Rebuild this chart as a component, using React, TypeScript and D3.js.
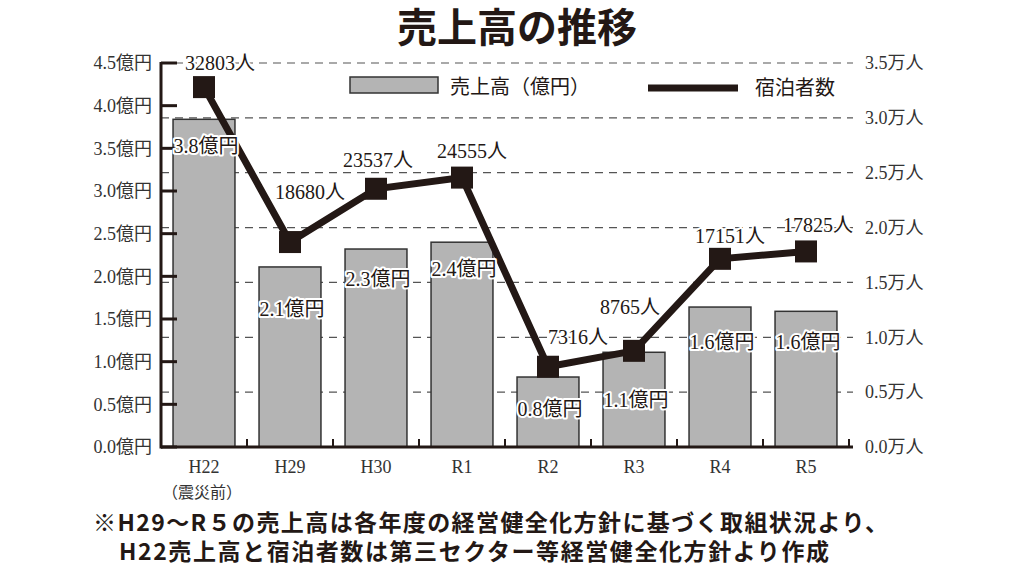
import React from "react";
import * as d3 from "d3";

// data
const years = ["H22", "H29", "H30", "R1", "R2", "R3", "R4", "R5"];
const yearNotes = ["（震災前）", "", "", "", "", "", "", ""];
const sales = [3.84, 2.11, 2.32, 2.4, 0.82, 1.11, 1.64, 1.59]; // 億円
const guests = [32803, 18680, 23537, 24555, 7316, 8765, 17151, 17825]; // 人
const salesTicks = [0, 0.5, 1, 1.5, 2, 2.5, 3, 3.5, 4, 4.5];
const guestTicks = [0, 5000, 10000, 15000, 20000, 25000, 30000, 35000];

// label nudges (px) so the labels sit where the original puts them
const salesLabelDy = [34, 49, 37, 34, 39, 55, 42, 38];
const guestLabelDx = [16, 20, 2, 10, 30, -4, 10, 12];
const guestLabelDy = [-17, -43, -22, -20, -23, -37, -16, -19];

const W = 1024;
const H = 576;
const left = 161;
const right = 849;
const top = 63;
const bottom = 447;
const ink = "#231815";
const serif = "'Liberation Serif', 'DejaVu Serif', 'Noto Sans CJK JP', serif";
const sans = "'Noto Sans CJK JP', sans-serif";

const App = () => {
  const x = d3
    .scaleBand<string>()
    .domain(years)
    .range([left, right])
    .paddingInner(0.28)
    .paddingOuter(0.14);
  const yL = d3.scaleLinear().domain([0, 4.5]).range([bottom, top]);
  const yR = d3.scaleLinear().domain([0, 35000]).range([bottom, top]);
  const cx = (d: string) => (x(d) ?? 0) + x.bandwidth() / 2;

  const line = d3
    .line<number>()
    .x((d, i) => cx(years[i]))
    .y(d => yR(d));

  const halo = {
    stroke: "#fff",
    strokeWidth: 4,
    paintOrder: "stroke" as const,
    strokeLinejoin: "round" as const
  };

  return (
    <svg
      width={W}
      height={H}
      style={{ position: "absolute", left: 0, top: 0, background: "#fff" }}
    >
      {/* title */}
      <text
        x={517}
        y={42}
        textAnchor="middle"
        fontFamily={sans}
        fontWeight={700}
        fontSize={40}
        fill={ink}
      >
        売上高の推移
      </text>

      {/* dashed grid from the right axis */}
      {guestTicks.slice(1).map(t => (
        <line
          key={"g" + t}
          x1={left}
          x2={right + 4}
          y1={yR(t)}
          y2={yR(t)}
          stroke="#555"
          strokeWidth={1.2}
          strokeDasharray="8 6"
        />
      ))}

      {/* legend */}
      <rect x={350} y={77} width={88} height={16} fill="#b4b4b4" stroke="#333" strokeWidth={1.5} />
      <text x={450} y={94} fontFamily={serif} fontSize={20} fill={ink}>
        売上高（億円）
      </text>
      <line x1={648} x2={738} y1={88} y2={88} stroke={ink} strokeWidth={7} />
      <text x={755} y={95} fontFamily={serif} fontSize={20} fill={ink}>
        宿泊者数
      </text>

      {/* bars */}
      {sales.map((v, i) => (
        <rect
          key={"b" + i}
          x={x(years[i])}
          y={yL(v)}
          width={x.bandwidth()}
          height={yL(0) - yL(v)}
          fill="#b4b4b4"
          stroke="#333"
          strokeWidth={1.5}
        />
      ))}

      {/* left axis */}
      <line x1={left} x2={left} y1={top - 1} y2={bottom + 1.5} stroke={ink} strokeWidth={3} />
      {salesTicks.map(t => (
        <g key={"l" + t}>
          <line x1={left} x2={left + 16} y1={yL(t)} y2={yL(t)} stroke={ink} strokeWidth={3} />
          <text
            x={152}
            y={yL(t)}
            dy="0.35em"
            textAnchor="end"
            fontFamily={serif}
            fontSize={18}
            fill="#333"
          >
            {t.toFixed(1)}億円
          </text>
        </g>
      ))}

      {/* right axis labels */}
      {guestTicks.map(t => (
        <text
          key={"r" + t}
          x={865}
          y={yR(t)}
          dy="0.35em"
          fontFamily={serif}
          fontSize={18}
          fill="#333"
        >
          {(t / 10000).toFixed(1)}万人
        </text>
      ))}

      {/* baseline + boundary ticks */}
      <line x1={left} x2={right + 4} y1={bottom} y2={bottom} stroke={ink} strokeWidth={3} />
      {years.map((d, i) => {
        const bx = left + x.step() * (i + 1);
        return (
          <line key={"t" + d} x1={bx} x2={bx} y1={bottom} y2={bottom - 8} stroke={ink} strokeWidth={2} />
        );
      })}

      {/* x labels */}
      {years.map((d, i) => (
        <g key={"x" + d}>
          <text x={cx(d)} y={473} textAnchor="middle" fontFamily={serif} fontSize={18} fill="#333">
            {d}
          </text>
          {yearNotes[i] && (
            <text x={cx(d) - 2} y={498} textAnchor="middle" fontFamily={serif} fontSize={16} fill="#333">
              {yearNotes[i]}
            </text>
          )}
        </g>
      ))}

      {/* guest line */}
      <path d={line(guests) ?? ""} fill="none" stroke={ink} strokeWidth={7} strokeLinejoin="miter" />
      {guests.map((v, i) => (
        <rect key={"m" + i} x={cx(years[i]) - 11} y={yR(v) - 11} width={22} height={22} fill={ink} />
      ))}

      {/* bar value labels */}
      {sales.map((v, i) => (
        <text
          key={"sv" + i}
          x={cx(years[i]) + 2}
          y={yL(v) + salesLabelDy[i]}
          textAnchor="middle"
          fontFamily={serif}
          fontSize={20}
          fill={ink}
          {...halo}
        >
          {v.toFixed(1)}億円
        </text>
      ))}

      {/* guest value labels */}
      {guests.map((v, i) => (
        <text
          key={"gv" + i}
          x={cx(years[i]) + guestLabelDx[i]}
          y={yR(v) + guestLabelDy[i]}
          textAnchor="middle"
          fontFamily={serif}
          fontSize={20}
          fill={ink}
          {...halo}
        >
          {v}人
        </text>
      ))}

      {/* footnote */}
      <text x={93} y={531} fontFamily={sans} fontWeight={700} fontSize={23} fill={ink} textLength={795} lengthAdjust="spacing">
        ※H29～R５の売上高は各年度の経営健全化方針に基づく取組状況より、
      </text>
      <text x={119} y={560} fontFamily={sans} fontWeight={700} fontSize={23} fill={ink} textLength={710} lengthAdjust="spacing">
        H22売上高と宿泊者数は第三セクター等経営健全化方針より作成
      </text>
    </svg>
  );
};

export default App;
